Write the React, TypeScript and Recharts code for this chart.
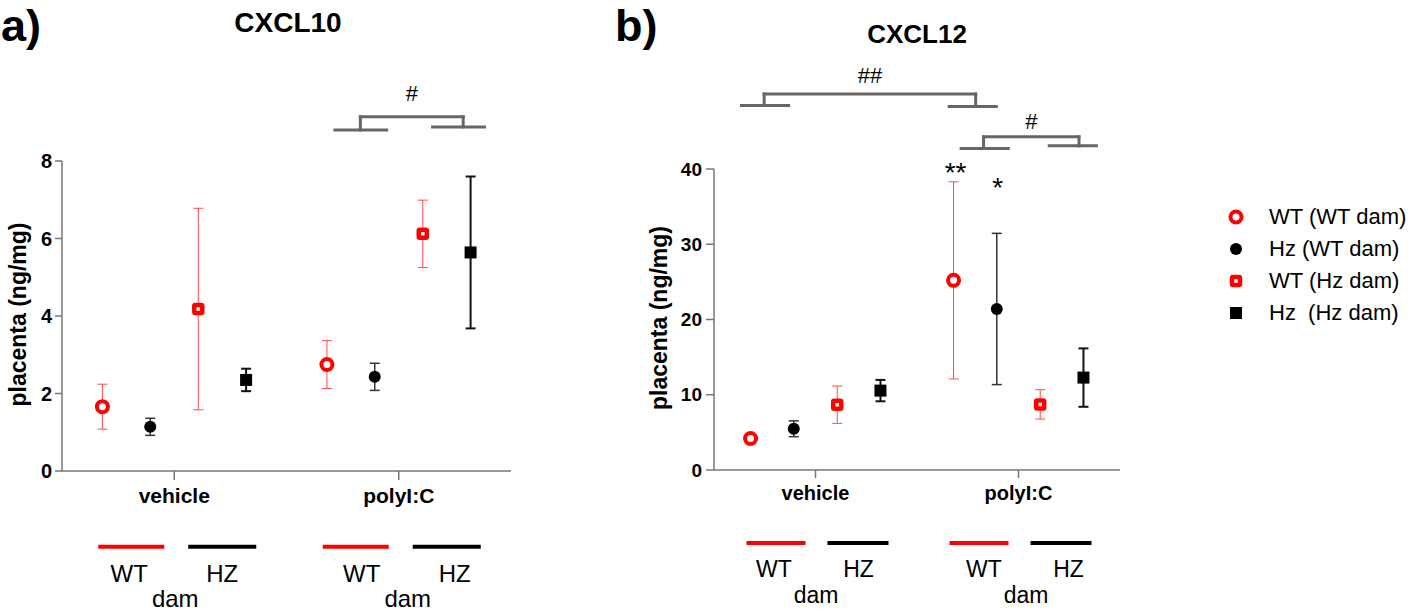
import React from 'react'
import { ScatterChart, Scatter, XAxis, YAxis, ErrorBar, ReferenceLine, ReferenceDot, Legend } from 'recharts'

const FONT = '"Liberation Sans", Arial, sans-serif'
const RED = '#ff0000'

const groups = ['vehicle', 'polyI:C']
const damGenotypes = ['WT', 'HZ']
const seriesNames = ['WT (WT dam)', 'Hz (WT dam)', 'WT (Hz dam)', 'Hz  (Hz dam)']

// mean per series, [vehicle, polyI:C]
const cxcl10Mean = [[1.66, 2.75], [1.14, 2.43], [4.18, 6.12], [2.35, 5.64]]
const cxcl10Err = [[0.58, 0.62], [0.22, 0.35], [2.6, 0.87], [0.29, 1.96]]
const cxcl12Mean = [[4.19, 25.2], [5.48, 21.4], [8.68, 8.72], [10.55, 12.28]]
const cxcl12Err = [[0.35, 13.1], [1.05, 10.05], [2.48, 1.95], [1.42, 3.88]]

const cxcl10Ticks = [0, 2, 4, 6, 8]
const cxcl12Ticks = [0, 10, 20, 30, 40]

// where each series sits inside its group (in group units)
const seriesOffset = [-0.32, -0.107, 0.107, 0.32]

const toSeries = (mean: number[][], err: number[][]) =>
  mean.map((vals, s) => vals.map((y, g) => ({ x: g + 0.5 + seriesOffset[s], y, err: err[s][g] })))

const cxcl10Data = toSeries(cxcl10Mean, cxcl10Err)
const cxcl12Data = toSeries(cxcl12Mean, cxcl12Err)

function OpenCircle({ cx, cy }: any) {
  return <circle cx={cx} cy={cy} r={5.5} fill="#fff" stroke={RED} strokeWidth={4} />
}
function FilledDot({ cx, cy }: any) {
  return <circle cx={cx} cy={cy} r={6} fill="#000" />
}
function OpenSquare({ cx, cy }: any) {
  return <rect x={cx - 4} y={cy - 4} width={8} height={8} rx={1} fill="#fff" stroke={RED} strokeWidth={4.5} />
}
function FilledSquare({ cx, cy }: any) {
  return <rect x={cx - 6} y={cy - 6} width={12} height={12} fill="#000" />
}

const seriesStyle = [
  { shape: OpenCircle, err: '#ff4a4a', errW: 1 },
  { shape: FilledDot, err: '#333', errW: 1.5 },
  { shape: OpenSquare, err: '#ff4a4a', errW: 1 },
  { shape: FilledSquare, err: '#111', errW: 2 },
]

interface TickCfg {
  labelSize: number; labelDy: number; barDy: number
  red: [number, number]; black: [number, number]
  genoSize: number; genoDy: number; damDy: number
  wtDx: number; hzDx: number; damDx: number; shift: number
}

const tickA: TickCfg = {
  labelSize: 21, labelDy: 21, barDy: 64.7, red: [-76, -10], black: [14, 82],
  genoSize: 24, genoDy: 100, damDy: 125, wtDx: -41, hzDx: 52, damDx: 5, shift: 4,
}
const tickB: TickCfg = {
  labelSize: 20, labelDy: 20, barDy: 63, red: [-69, -10], black: [12, 73],
  genoSize: 23, genoDy: 97, damDy: 123, wtDx: -38, hzDx: 46.5, damDx: 4, shift: 3.5,
}

function GroupTick({ x, y, payload, index, cfg }: any) {
  const c: TickCfg = cfg
  const s = index === 0 ? -c.shift : c.shift
  return (
    <g fontFamily={FONT}>
      <text x={x} y={y + c.labelDy} textAnchor="middle" fontSize={c.labelSize} fontWeight="bold" fill="#000">
        {groups[Math.round(payload.value - 0.5)]}
      </text>
      <line x1={x + c.red[0]} x2={x + c.red[1]} y1={y + c.barDy} y2={y + c.barDy} stroke={RED} strokeWidth={4} />
      <line x1={x + c.black[0]} x2={x + c.black[1]} y1={y + c.barDy} y2={y + c.barDy} stroke="#000" strokeWidth={4} />
      <text x={x + c.wtDx + s} y={y + c.genoDy} textAnchor="middle" fontSize={c.genoSize} fill="#000">{damGenotypes[0]}</text>
      <text x={x + c.hzDx + s} y={y + c.genoDy} textAnchor="middle" fontSize={c.genoSize} fill="#000">{damGenotypes[1]}</text>
      <text x={x + c.damDx + s} y={y + c.damDy} textAnchor="middle" fontSize={c.genoSize} fill="#000">dam</text>
    </g>
  )
}

interface Bracket {
  top: number; x1: number; x2: number
  left: [number, number, number]; right: [number, number, number] // [y, from, to]
  label: string; offset: number
}

const bracketsA: Bracket[] = [
  { top: 9.14, x1: 1.329, x2: 1.787, left: [8.8, 1.209, 1.453], right: [8.88, 1.644, 1.889], label: '#', offset: 16 },
]
const bracketsB: Bracket[] = [
  { top: 49.96, x1: 0.247, x2: 1.289, left: [48.44, 0.128, 0.375], right: [48.3, 1.151, 1.398], label: '##', offset: 11 },
  { top: 44.27, x1: 1.328, x2: 1.798, left: [42.72, 1.21, 1.457], right: [43.08, 1.644, 1.891], label: '#', offset: 7.5 },
]

const lineProps = { stroke: '#666', strokeWidth: 3, ifOverflow: 'visible' as const, strokeLinecap: 'square' as const }

function bracketLines(list: Bracket[], key: string) {
  return list.flatMap((b, i) => [
    <ReferenceLine key={`${key}${i}t`} {...lineProps}
      segment={[{ x: b.x1, y: b.top }, { x: b.x2, y: b.top }]}
      label={{ value: b.label, position: 'top', offset: b.offset, fontSize: 22, fill: '#000', fontFamily: FONT }} />,
    <ReferenceLine key={`${key}${i}a`} {...lineProps} segment={[{ x: b.x1, y: b.top }, { x: b.x1, y: b.left[0] }]} />,
    <ReferenceLine key={`${key}${i}b`} {...lineProps} segment={[{ x: b.x2, y: b.top }, { x: b.x2, y: b.right[0] }]} />,
    <ReferenceLine key={`${key}${i}l`} {...lineProps} strokeLinecap="butt" segment={[{ x: b.left[1], y: b.left[0] }, { x: b.left[2], y: b.left[0] }]} />,
    <ReferenceLine key={`${key}${i}r`} {...lineProps} strokeLinecap="butt" segment={[{ x: b.right[1], y: b.right[0] }, { x: b.right[2], y: b.right[0] }]} />,
  ])
}

function LegendBox() {
  const shapes = seriesStyle.map((s) => s.shape)
  return (
    <div style={{ fontFamily: FONT, fontSize: 22, color: '#000' }}>
      {seriesNames.map((name, i) => {
        const Shape = shapes[i]
        return (
          <div key={name} style={{ display: 'flex', alignItems: 'center', height: 32 }}>
            <svg width={20} height={20}><Shape cx={10} cy={10} /></svg>
            <span style={{ marginLeft: 23, whiteSpace: 'pre' }}>{name}</span>
          </div>
        )
      })}
    </div>
  )
}

const axisStroke = { stroke: '#777', strokeWidth: 1.5 }

function renderSeries(data: { x: number; y: number; err: number }[][]) {
  return data.map((d, i) => (
    <Scatter key={seriesNames[i]} name={seriesNames[i]} data={d} shape={seriesStyle[i].shape} isAnimationActive={false}>
      <ErrorBar dataKey="err" direction="y" width={5} stroke={seriesStyle[i].err} strokeWidth={seriesStyle[i].errW} />
    </Scatter>
  ))
}

export default function App() {
  return (
    <div style={{ position: 'absolute', left: 0, top: 0, width: 1418, height: 612, background: '#fff', fontFamily: FONT }}>
      <div style={{ position: 'absolute', left: 0, top: 0 }}>
        <ScatterChart width={520} height={612} margin={{ top: 161, right: 9, bottom: 0, left: 22 }}>
          <XAxis type="number" dataKey="x" domain={[0, 2]} ticks={[0.5, 1.5]} allowDataOverflow height={141}
            axisLine={axisStroke} tickLine={axisStroke} tickSize={9} tickMargin={2} interval={0}
            tick={(p: any) => <GroupTick {...p} cfg={tickA} />} />
          <YAxis type="number" dataKey="y" domain={[0, 8]} ticks={cxcl10Ticks} allowDataOverflow width={40}
            axisLine={axisStroke} tickLine={axisStroke} tickSize={7} tickMargin={3}
            tick={{ fill: '#000', fontSize: 20, fontWeight: 'bold', fontFamily: FONT }} />
          {renderSeries(cxcl10Data)}
          {bracketLines(bracketsA, 'a')}
        </ScatterChart>
      </div>
      <div style={{ position: 'absolute', left: 600, top: 0 }}>
        <ScatterChart width={818} height={612} margin={{ top: 169, right: 298, bottom: 0, left: 74 }}>
          <XAxis type="number" dataKey="x" domain={[0, 2]} ticks={[0.5, 1.5]} allowDataOverflow height={142}
            axisLine={axisStroke} tickLine={axisStroke} tickSize={8} tickMargin={2} interval={0}
            tick={(p: any) => <GroupTick {...p} cfg={tickB} />} />
          <YAxis type="number" dataKey="y" domain={[0, 40]} ticks={cxcl12Ticks} allowDataOverflow width={40}
            axisLine={axisStroke} tickLine={axisStroke} tickSize={8} tickMargin={4}
            tick={{ fill: '#000', fontSize: 19, fontWeight: 'bold', fontFamily: FONT }} />
          {renderSeries(cxcl12Data)}
          {bracketLines(bracketsB, 'b')}
          <ReferenceDot x={1.19} y={38.28} r={0} fill="none" stroke="none" ifOverflow="visible"
            label={{ value: '**', position: 'top', offset: 0, fontSize: 28, fill: '#000', fontFamily: FONT }} />
          <ReferenceDot x={1.398} y={36.28} r={0} fill="none" stroke="none" ifOverflow="visible"
            label={{ value: '*', position: 'top', offset: 0, fontSize: 28, fill: '#000', fontFamily: FONT }} />
          <Legend layout="vertical" align="center" verticalAlign="middle" content={<LegendBox />}
            wrapperStyle={{ left: 626, top: 201, width: 'auto' }} />
        </ScatterChart>
      </div>
      <svg width={1418} height={612} style={{ position: 'absolute', left: 0, top: 0, pointerEvents: 'none' }} fontFamily={FONT}>
        <text x={1} y={41} fontSize={45} fontWeight="bold" fill="#000">a)</text>
        <text x={615} y={41} fontSize={45} fontWeight="bold" fill="#000">b)</text>
        <text x={288} y={32} fontSize={28} fontWeight="bold" textAnchor="middle" fill="#000">CXCL10</text>
        <text x={917} y={43} fontSize={26} fontWeight="bold" textAnchor="middle" fill="#000">CXCL12</text>
        <text transform="translate(26 314.5) rotate(-90)" fontSize={23} fontWeight="bold" textAnchor="middle" fill="#000">placenta (ng/mg)</text>
        <text transform="translate(667 318) rotate(-90)" fontSize={23} fontWeight="bold" textAnchor="middle" fill="#000">placenta (ng/mg)</text>
      </svg>
    </div>
  )
}
